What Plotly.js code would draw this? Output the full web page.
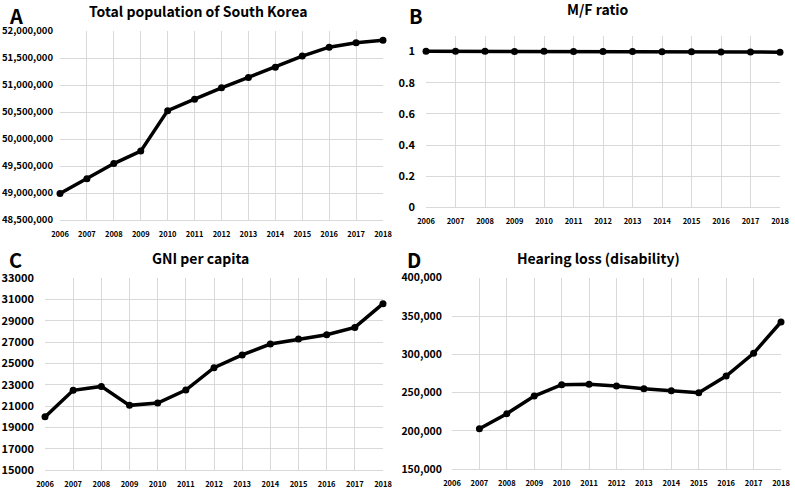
<!DOCTYPE html>
<html>
<head>
<meta charset="utf-8">
<script src="https://cdn.plot.ly/plotly-3.0.1.min.js"></script>
<style>html,body{margin:0;padding:0;background:#fff;}#chart{width:795px;height:490px;}</style>
</head>
<body>
<div id="chart"></div>
<script>
var years = [2006, 2007, 2008, 2009, 2010, 2011, 2012, 2013, 2014, 2015, 2016, 2017, 2018];
var yearsD = [2007, 2008, 2009, 2010, 2011, 2012, 2013, 2014, 2015, 2016, 2017, 2018];
var population = [48991000, 49266000, 49545000, 49776000, 50525000, 50738000, 50948000, 51140000, 51330000, 51535000, 51700000, 51782000, 51828000];
var mfRatio = [1.002, 1.002, 1.002, 1.001, 1.002, 1.001, 1.001, 1.000, 0.999, 0.999, 0.998, 0.998, 0.996];
var gni = [19990, 22480, 22850, 21070, 21290, 22510, 24610, 25800, 26830, 27290, 27700, 28390, 30620];
var hearingLoss = [203000, 222600, 245600, 260400, 260900, 258700, 255200, 252600, 250000, 271700, 301300, 342200];
var titles = ["Total population of South Korea", "M/F ratio", "GNI per capita", "Hearing loss (disability)"];
var letters = ["A", "B", "C", "D"];

var FONT = "Malgun Gothic, 'Noto Sans CJK KR', 'Noto Sans', sans-serif";
var W = 795, H = 490;
function px(x){return x / W;}
function py(y){return 1 - y / H;}

var line = {color: '#000', width: 3.5};
var marker = {color: '#000', size: 7};
function tr(x, y, xa, ya){
  return {x: x, y: y, xaxis: xa, yaxis: ya, type: 'scatter', mode: 'lines+markers', line: line, marker: marker, hoverinfo: 'skip', cliponaxis: false};
}
var data = [
  tr(years, population, 'x', 'y'),
  tr(years, mfRatio, 'x2', 'y2'),
  tr(years, gni, 'x3', 'y3'),
  tr(yearsD, hearingLoss, 'x4', 'y4')
];

function xax(d0, d1, anchor){
  return {domain: [px(d0), px(d1)], anchor: anchor, range: [2006, 2018], tickmode: 'linear', tick0: 2006, dtick: 1,
    showgrid: true, gridcolor: '#d9d9d9', gridwidth: 1, showline: true, linecolor: '#d9d9d9', linewidth: 1, zeroline: false, ticks: '',
    ticklabelstandoff: 7,
    tickfont: {family: FONT, size: 7.5, color: '#000', weight: 'bold'}, fixedrange: true};
}
function yax(d0, d1, anchor, range, dtick, fmt, fsize, standoff){
  return {domain: [py(d1), py(d0)], anchor: anchor, range: range, tickmode: 'linear', tick0: range[0], dtick: dtick, tickformat: fmt,
    showgrid: true, gridcolor: '#d9d9d9', gridwidth: 1, showline: false, zeroline: false, ticks: '',
    ticklabelstandoff: standoff,
    tickfont: {family: FONT, size: fsize, color: '#000', weight: 'bold'}, fixedrange: true};
}

var layout = {
  width: W, height: H, margin: {l: 0, r: 0, t: 0, b: 0}, paper_bgcolor: '#fff', plot_bgcolor: '#fff', showlegend: false,
  xaxis: xax(60, 383, 'y'),
  yaxis: yax(31, 220, 'x', [48500000, 52000000], 500000, ',d', 9.5, 6),
  xaxis2: xax(426, 780, 'y2'),
  yaxis2: yax(36, 207.3, 'x2', [0, 1.1], 0.2, '', 11, 10),
  xaxis3: xax(45, 383, 'y3'),
  yaxis3: yax(278.3, 470, 'x3', [15000, 33000], 2000, 'd', 11, 10),
  xaxis4: xax(452, 781, 'y4'),
  yaxis4: yax(277.7, 469.3, 'x4', [150000, 400000], 50000, ',d', 10.5, 9),
  annotations: []
};
var titlePos = [[198, 11], [598, 9], [200, 258], [598, 258]];
var letterPos = [[8, 0], [408, 0], [8, 244], [406, 244]];
for (var i = 0; i < 4; i++){
  layout.annotations.push({text: titles[i], xref: 'paper', yref: 'paper', x: px(titlePos[i][0]), y: py(titlePos[i][1]), xanchor: 'center', yanchor: 'middle', showarrow: false,
    font: {family: FONT, size: 14, color: '#000', weight: 'bold'}});
  layout.annotations.push({text: letters[i], xref: 'paper', yref: 'paper', x: px(letterPos[i][0]), y: py(letterPos[i][1]), xanchor: 'left', yanchor: 'top', showarrow: false,
    borderpad: 0,
    font: {family: FONT, size: 20, color: '#000', weight: 'bold'}});
}
Plotly.newPlot('chart', data, layout, {displayModeBar: false, staticPlot: true});
</script>
</body>
</html>
